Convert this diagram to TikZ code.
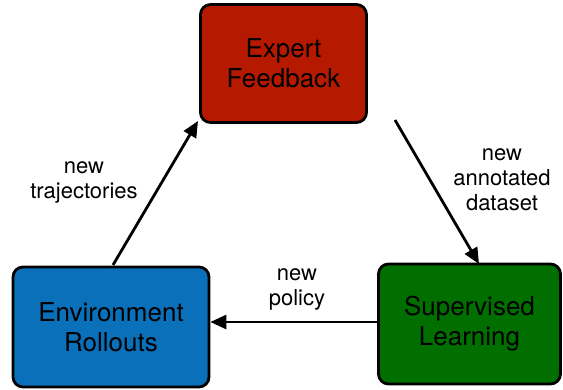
\documentclass[tikz,border=0pt]{standalone}
\usepackage{fontspec}
\setmainfont{TeX Gyre Heros}
\usetikzlibrary{arrows.meta}
\definecolor{boxred}{HTML}{B51A00}
\definecolor{boxblue}{HTML}{0A70BA}
\definecolor{boxgreen}{HTML}{006F00}
\begin{document}
\begin{tikzpicture}[x=1pt,y=-1pt,
  box/.style={draw=black, line width=2.8pt, rounded corners=10pt, align=center,
    font=\fontsize{26}{30}\selectfont, inner sep=0pt},
  lbl/.style={align=center, font=\fontsize{22}{25}\selectfont, anchor=base},
  conn/.style={line width=2.8pt, -{Triangle[length=16pt,width=14pt]}}]
\useasboundingbox (0,0) rectangle (563,389);
\node[box, fill=boxred, minimum width=166pt, minimum height=118pt] (ef) at (283.5,63.5) {Expert\\Feedback};
\node[box, fill=boxblue, minimum width=196pt, minimum height=120pt] (er) at (111,327) {Environment\\Rollouts};
\node[box, fill=boxgreen, minimum width=182pt, minimum height=120pt] (sl) at (469.5,324) {Supervised\\Learning};
\coordinate (a1s) at (113,265);
\coordinate (a1e) at (198,121);
\coordinate (a2s) at (395,120);
\coordinate (a2e) at (479,264);
\draw[conn] (a1s) -- (a1e);
\draw[conn] (a2s) -- (a2e);
\draw[conn] (sl.west |- 0,322) -- (er.east |- 0,322);
\node[lbl] (l1) at (84,198) {new\\trajectories};
\node[lbl] (l2) at (502,210) {new\\annotated\\dataset};
\node[lbl] (l3) at (297,305) {new\\policy};
\end{tikzpicture}
\end{document}
